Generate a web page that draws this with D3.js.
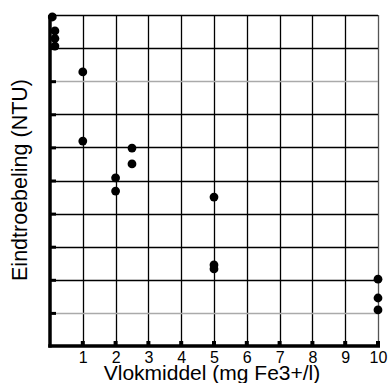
<!DOCTYPE html>
<html>
<head>
<meta charset="utf-8">
<script src="https://cdn.jsdelivr.net/npm/d3@7"></script>
<style>
  body { margin: 0; background: #fff; }
  text { font-family: "Liberation Sans", Arial, sans-serif; fill: #000; }
</style>
</head>
<body>
<div id="chart"></div>
<script>
// measured points (x = dose, y = turbidity, axis 0..10 without y labels)
var doseX = [0.07, 0.15, 0.15, 0.15, 1, 1, 2, 2, 2.5, 2.5, 5, 5, 5, 10, 10, 10];
var turbY = [9.94, 9.52, 9.29, 9.06, 8.28, 6.19, 5.08, 4.68, 5.98, 5.5, 4.5, 2.45, 2.33, 2.02, 1.45, 1.09];
var xTicks = [1, 2, 3, 4, 5, 6, 7, 8, 9, 10];
var yTicks = [1, 2, 3, 4, 5, 6, 7, 8, 9, 10];
var grayRows = [1, 8]; // these gridlines look lighter in the picture
var xTitle = "Vlokmiddel (mg Fe3+/l)";
var yTitle = "Eindtroebeling (NTU)";

var W = 389, H = 383;
var margin = {left: 50, right: 11, top: 15, bottom: 37};

var svg = d3.select("#chart").append("svg")
    .attr("width", W).attr("height", H);

var x = d3.scaleLinear().domain([0, 10]).range([margin.left, W - margin.right]);
var y = d3.scaleLinear().domain([0, 10]).range([H - margin.bottom, margin.top]);

// vertical grid
svg.append("g").selectAll("line")
    .data(xTicks)
    .enter().append("line")
    .attr("x1", function(d) { return Math.round(x(d)) + 0.5; })
    .attr("x2", function(d) { return Math.round(x(d)) + 0.5; })
    .attr("y1", y(10)).attr("y2", y(0))
    .attr("stroke", function(d) { return d === 10 ? "#555" : "#000"; })
    .attr("stroke-width", 1.3);

// horizontal grid
svg.append("g").selectAll("line")
    .data(yTicks)
    .enter().append("line")
    .attr("x1", x(0)).attr("x2", x(10))
    .attr("y1", function(d) { return Math.round(y(d)) + 0.5; })
    .attr("y2", function(d) { return Math.round(y(d)) + 0.5; })
    .attr("stroke", function(d) { return grayRows.indexOf(d) >= 0 ? "#aaa" : "#000"; })
    .attr("stroke-width", 1.3);

// left axis: thick line + ticks pointing inward
var yAxis = d3.axisRight(y).tickValues(yTicks).tickSize(6).tickFormat("");
svg.append("g")
    .attr("transform", "translate(" + x(0) + ",0)")
    .call(yAxis)
    .call(function(g) {
        g.select(".domain").remove();
        g.selectAll(".tick line").attr("stroke", "#000").attr("stroke-width", 3);
    });
svg.append("line")
    .attr("x1", x(0)).attr("x2", x(0))
    .attr("y1", y(10)).attr("y2", y(0) + 1.5)
    .attr("stroke", "#000").attr("stroke-width", 3.5);

// bottom axis: thick line + small ticks pointing up, labels below
var xAxis = d3.axisBottom(x).tickValues(xTicks).tickSize(0).tickPadding(6);
svg.append("g")
    .attr("transform", "translate(0," + y(0) + ")")
    .call(xAxis)
    .call(function(g) {
        g.select(".domain").remove();
        g.selectAll(".tick text")
            .attr("font-size", 16)
            .attr("font-family", "Liberation Sans, Arial, sans-serif")
            .attr("fill", "#000");
    });
svg.append("g").selectAll("rect")
    .data(xTicks)
    .enter().append("rect")
    .attr("x", function(d) { return x(d) - 2; })
    .attr("y", y(0) - 5)
    .attr("width", 4).attr("height", 5)
    .attr("fill", "#000");
svg.append("line")
    .attr("x1", x(0) - 1.75).attr("x2", x(10) + 2)
    .attr("y1", y(0)).attr("y2", y(0))
    .attr("stroke", "#000").attr("stroke-width", 3.5);

// points
svg.append("g").selectAll("circle")
    .data(doseX)
    .enter().append("circle")
    .attr("cx", function(d) { return x(d); })
    .attr("cy", function(d, i) { return y(turbY[i]); })
    .attr("r", 4.4)
    .attr("fill", "#000");

// titles
svg.append("text")
    .attr("x", (x(0) + x(10)) / 2 - 2)
    .attr("y", 380)
    .attr("text-anchor", "middle")
    .attr("font-size", 21)
    .text(xTitle);

svg.append("text")
    .attr("transform", "translate(27," + 180 + ") rotate(-90)")
    .attr("text-anchor", "middle")
    .attr("font-size", 21.5)
    .text(yTitle);
</script>
</body>
</html>
